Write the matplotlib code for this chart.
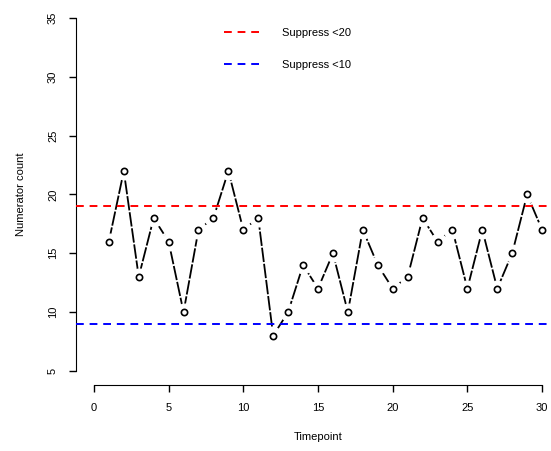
import matplotlib
matplotlib.use("Agg")
import matplotlib.pyplot as plt
from matplotlib.lines import Line2D

plt.rcParams['font.family'] = ['Liberation Sans', 'DejaVu Sans']

# numerator counts per timepoint
timepoints = list(range(1, 31))
counts = [16, 22, 13, 18, 16, 10, 17, 18, 22, 17,
          18, 8, 10, 14, 12, 15, 10, 17, 14, 12,
          13, 18, 16, 17, 12, 17, 12, 15, 20, 17]

# suppression thresholds drawn as horizontal lines
thresholds = [19, 9]
threshold_labels = ['Suppress <20', 'Suppress <10']
threshold_colors = ['red', 'blue']

x_ticks = [0, 5, 10, 15, 20, 25, 30]
y_ticks = [5, 10, 15, 20, 25, 30, 35]

fig = plt.figure(figsize=(5.51, 4.51), dpi=100)
ax = fig.add_axes([76/551, 66/451, 484/551, 381/451])
ax.set_xlim(-1.2, 31.2)
ax.set_ylim(3.8, 36.2)

# line with gaps round the points, like type="b"
ax.plot(timepoints, counts, color='black', lw=1.3, dashes=(8, 1), zorder=2)
ax.plot(timepoints, counts, ls='none', marker='o', ms=12, mfc='white', mec='white', zorder=3)
ax.plot(timepoints, counts, ls='none', marker='o', ms=4.5, mfc='none', mec='black', mew=1.2, zorder=5)

handles = []
for y, lab, col in zip(thresholds, threshold_labels, threshold_colors):
    ax.axhline(y, color=col, lw=1.4, dashes=(4, 3), zorder=4)
    handles.append(Line2D([], [], color=col, lw=1.4, dashes=(4, 3)))

fig.legend(handles, threshold_labels, loc='upper left', bbox_to_anchor=(214/551, 1 - 18/451),
           frameon=False, fontsize=8, handlelength=3.4, handletextpad=1.8, labelspacing=2.0)

for s in ['top', 'right']:
    ax.spines[s].set_visible(False)
ax.spines['left'].set_bounds(5, 35)
ax.spines['bottom'].set_bounds(0, 30)

ax.set_xticks(x_ticks)
ax.set_yticks(y_ticks)
ax.tick_params(direction='out', length=5, width=1, labelsize=8, pad=8)
for t in ax.get_yticklabels():
    t.set_rotation(90)
    t.set_va('center')

ax.set_xlabel('Timepoint', fontsize=8, labelpad=14)
ax.set_ylabel('Numerator count', fontsize=8, labelpad=16)

fig.savefig('out.png', dpi=100)
